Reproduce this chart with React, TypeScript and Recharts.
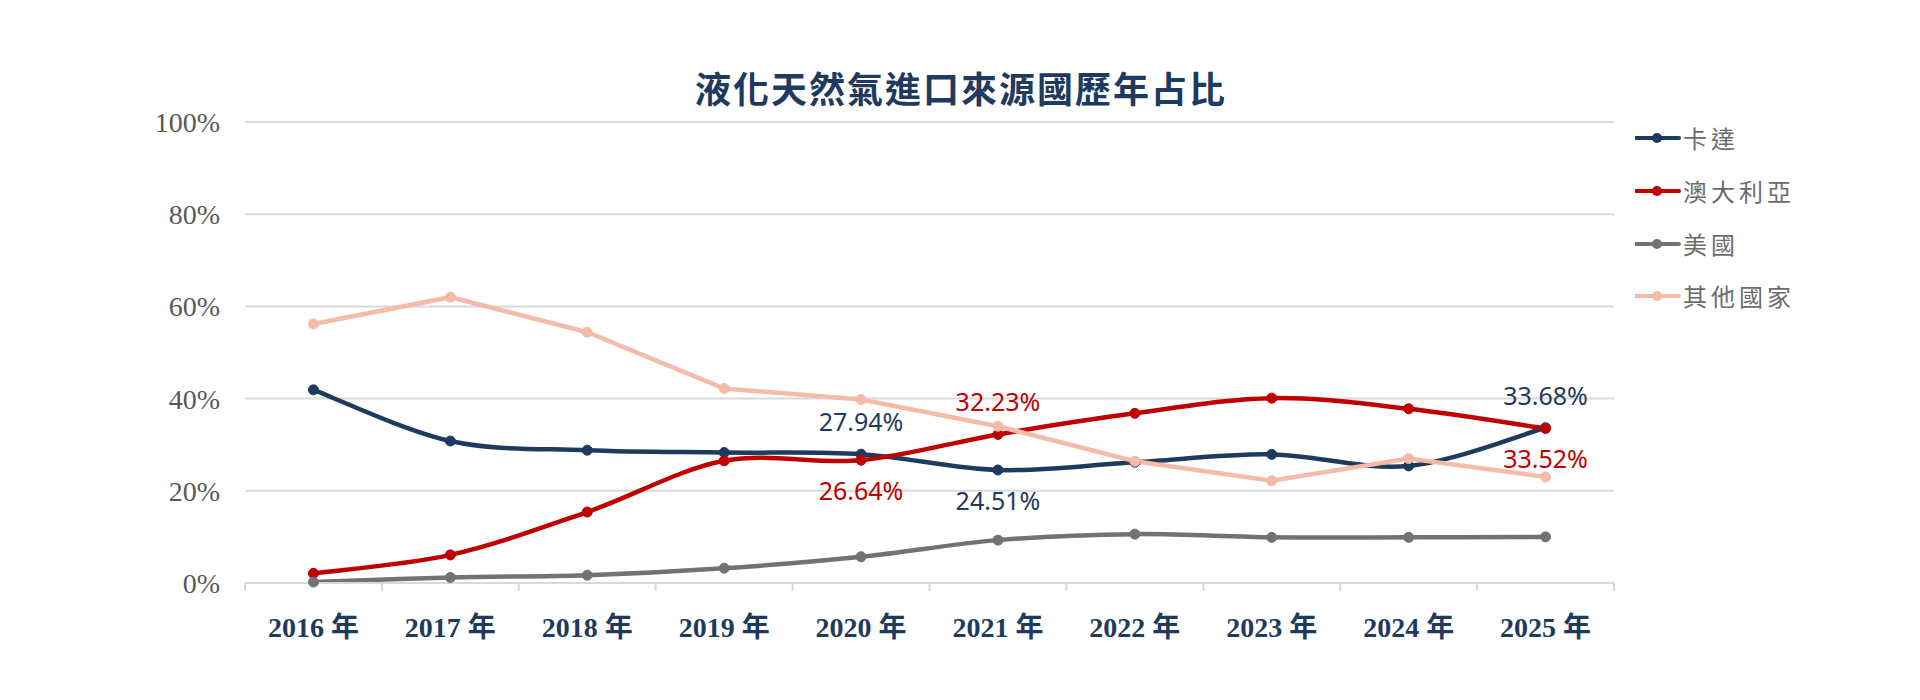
import React from 'react';
import { LineChart, Line, XAxis, YAxis, CartesianGrid, Legend, LabelList } from 'recharts';

const years = ['2016 年', '2017 年', '2018 年', '2019 年', '2020 年', '2021 年', '2022 年', '2023 年', '2024 年', '2025 年'];
const qatar = [41.9, 30.8, 28.8, 28.3, 27.94, 24.51, 26.2, 27.9, 25.4, 33.68];
const australia = [2.1, 6.1, 15.4, 26.5, 26.64, 32.23, 36.8, 40.1, 37.8, 33.52];
const usa = [0.2, 1.2, 1.7, 3.2, 5.7, 9.3, 10.6, 9.9, 9.9, 10.0];
const others = [56.2, 62.0, 54.4, 42.2, 39.8, 34.0, 26.4, 22.2, 27.0, 23.0];
const yTicks = [0, 20, 40, 60, 80, 100];
const seriesNames = ['卡達', '澳大利亞', '美國', '其他國家'];
const title = '液化天然氣進口來源國歷年占比';

const data = years.map((year, i) => ({
  year,
  qatar: qatar[i],
  australia: australia[i],
  usa: usa[i],
  others: others[i],
}));

// which points carry a value label, and where
const qatarLabels: Record<number, string> = { 4: 'top', 5: 'bottom', 9: 'top' };
const australiaLabels: Record<number, string> = { 4: 'bottom', 5: 'top', 9: 'bottom' };

const NAVY = '#1F3A5F';
const RED = '#C00000';
const GRAY = '#767171';
const PINK = '#F4BBA8';
const GRID = '#D9D9D9';
const HALF = 68.45;

// Excel-like smoothed line (Catmull-Rom as cubic Bezier)
function excelSmooth(context: any) {
  let pts: number[][] = [];
  return {
    areaStart() {},
    areaEnd() {},
    lineStart() {
      pts = [];
    },
    point(x: number, y: number) {
      pts.push([+x, +y]);
    },
    lineEnd() {
      const n = pts.length;
      if (!n) return;
      context.moveTo(pts[0][0], pts[0][1]);
      for (let i = 0; i < n - 1; i++) {
        const p0 = pts[Math.max(i - 1, 0)];
        const p1 = pts[i];
        const p2 = pts[i + 1];
        const p3 = pts[Math.min(i + 2, n - 1)];
        context.bezierCurveTo(
          p1[0] + (p2[0] - p0[0]) / 6,
          p1[1] + (p2[1] - p0[1]) / 6,
          p2[0] - (p3[0] - p1[0]) / 6,
          p2[1] - (p3[1] - p1[1]) / 6,
          p2[0],
          p2[1]
        );
      }
    },
  };
}

const makeLabel = (map: Record<number, string>, color: string) => (props: any) => {
  const { index, value } = props;
  const pos = map[index];
  if (!pos) return null;
  const x = props.x ?? props.viewBox?.x;
  const y = props.y ?? props.viewBox?.y;
  return (
    <text
      x={x}
      y={pos === 'top' ? y - 23 : y + 40}
      textAnchor="middle"
      fill={color}
      fontSize={25}
      fontFamily="'Noto Sans', sans-serif"
    >
      {`${Number(value).toFixed(2)}%`}
    </text>
  );
};

const XTick = (props: any) => {
  const { x, y, payload, index } = props;
  const last = index === years.length - 1;
  return (
    <g>
      <line x1={x - HALF} x2={x - HALF} y1={y} y2={y + 8} stroke={GRID} strokeWidth={2} />
      {last && <line x1={x + HALF} x2={x + HALF} y1={y} y2={y + 8} stroke={GRID} strokeWidth={2} />}
      <text
        x={x}
        y={y + 54}
        textAnchor="middle"
        fill={NAVY}
        fontSize={28}
        fontWeight="bold"
        fontFamily="'Liberation Serif', 'Noto Sans CJK TC', serif"
      >
        {payload.value}
      </text>
    </g>
  );
};

const renderLegend = (props: any) => {
  const items = [...(props.payload || [])].sort(
    (a: any, b: any) => seriesNames.indexOf(a.value) - seriesNames.indexOf(b.value)
  );
  return (
    <div>
      {items.map((it: any) => (
        <div key={it.value} style={{ height: 52.7, display: 'flex', alignItems: 'center' }}>
          <svg width={46} height={14} style={{ display: 'block' }}>
            <line x1={1} y1={7} x2={44} y2={7} stroke={it.color} strokeWidth={4} strokeLinecap="round" />
            <circle cx={22} cy={7} r={5} fill={it.color} />
          </svg>
          <span
            style={{
              marginLeft: 2,
              fontSize: 24,
              letterSpacing: 4,
              color: '#6B6B6B',
              fontFamily: "'Noto Sans CJK TC', sans-serif",
              lineHeight: '30px',
            }}
          >
            {it.value}
          </span>
        </div>
      ))}
    </div>
  );
};

export default function App() {
  return (
    <div style={{ position: 'absolute', left: 0, top: 0, width: 1920, height: 700, background: '#fff' }}>
      <div
        style={{
          position: 'absolute',
          left: 0,
          top: 67,
          width: 1920,
          textAlign: 'center',
          fontSize: 36,
          lineHeight: '40px',
          letterSpacing: 2,
          paddingLeft: 2,
          boxSizing: 'border-box',
          fontWeight: 'bold',
          color: NAVY,
          fontFamily: "'Noto Sans CJK TC', sans-serif",
          zIndex: 2,
        }}
      >
        {title}
      </div>
      <LineChart width={1920} height={700} data={data} margin={{ top: 122, right: 21, bottom: 0, left: 0 }}>
        <CartesianGrid horizontal vertical={false} stroke={GRID} strokeWidth={2} />
        <XAxis
          dataKey="year"
          height={117}
          interval={0}
          padding={{ left: HALF, right: HALF }}
          axisLine={{ stroke: GRID, strokeWidth: 2 }}
          tickLine={false}
          tickSize={0}
          tickMargin={0}
          tick={<XTick />}
        />
        <YAxis
          width={245}
          domain={[0, 100]}
          ticks={yTicks}
          interval={0}
          tickFormatter={(v: number) => `${v}%`}
          axisLine={false}
          tickLine={false}
          tickSize={0}
          tickMargin={25}
          tick={{ fill: '#595959', fontSize: 28, fontFamily: "'Liberation Serif', serif" }}
        />
        <Legend
          layout="vertical"
          align="right"
          verticalAlign="middle"
          content={renderLegend}
          wrapperStyle={{ left: 1635, top: 112, width: 285 }}
        />
        <Line
          dataKey="qatar"
          name="卡達"
          type={excelSmooth as any}
          stroke={NAVY}
          strokeWidth={4.5}
          dot={{ r: 5, fill: NAVY, stroke: NAVY, strokeWidth: 1 }}
          activeDot={false}
          isAnimationActive={false}
        >
          <LabelList dataKey="qatar" content={makeLabel(qatarLabels, NAVY)} />
        </Line>
        <Line
          dataKey="australia"
          name="澳大利亞"
          type={excelSmooth as any}
          stroke={RED}
          strokeWidth={4.5}
          dot={{ r: 5, fill: RED, stroke: RED, strokeWidth: 1 }}
          activeDot={false}
          isAnimationActive={false}
        >
          <LabelList dataKey="australia" content={makeLabel(australiaLabels, RED)} />
        </Line>
        <Line
          dataKey="usa"
          name="美國"
          type={excelSmooth as any}
          stroke={GRAY}
          strokeWidth={4.5}
          dot={{ r: 5, fill: GRAY, stroke: GRAY, strokeWidth: 1 }}
          activeDot={false}
          isAnimationActive={false}
        />
        <Line
          dataKey="others"
          name="其他國家"
          type="linear"
          stroke={PINK}
          strokeWidth={4.5}
          dot={{ r: 5, fill: PINK, stroke: PINK, strokeWidth: 1 }}
          activeDot={false}
          isAnimationActive={false}
        />
      </LineChart>
    </div>
  );
}
